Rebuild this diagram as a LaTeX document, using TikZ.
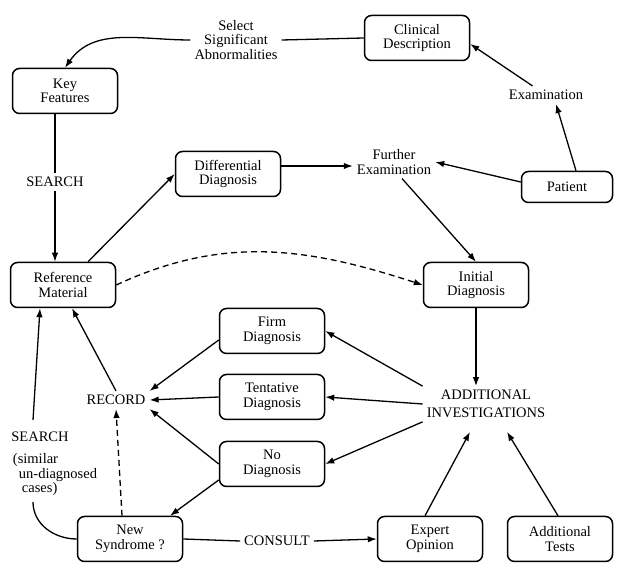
\documentclass[tikz,border=0pt]{standalone}
\usepackage{fontspec}
\setmainfont{Liberation Serif}
\newfontfamily\diagfont{Liberation Serif}
\usetikzlibrary{arrows.meta}
\tikzset{
  box/.style={draw, line width=1.5pt, rounded corners=7pt, minimum width=105pt,
    minimum height=45pt, align=center},
  txt/.style={align=center, inner sep=4pt},
  link/.style={line width=1.3pt, -{Latex[length=9pt, width=6.5pt]}},
  plain/.style={line width=1.3pt},
  dashline/.style={dash pattern=on 6pt off 4pt}
}
\begin{document}
\begin{tikzpicture}[x=1pt, y=1pt, font=\diagfont\fontsize{14.5}{14.5}\selectfont]
        \useasboundingbox (0, 0) rectangle (625, -577); %
        \node[box] (clin) at (417, -38) {Clinical\\Description};
        \node[txt] (sel) at (236, -40) {Select\\Significant\\Abnormalities};
        \node[box] (key) at (65, -91) {Key\\Features};
        \node[txt] (exam) at (546, -95) {Examination};
        \node[box, minimum width=91pt, minimum height=31pt] (pat) at (567, -187) {Patient};
        \node[txt] (furth) at (394, -162) {Further\\Examination};
        \node[box] (diff) at (228, -174) {Differential\\Diagnosis};
        \node[txt] (srch) at (55, -182) {SEARCH};
        \node[box] (ref) at (63, -285) {Reference\\Material};
        \node[box] (init) at (476, -285) {Initial\\Diagnosis};
        \node[txt] (addinv) at (486, -404) {ADDITIONAL\\[3pt]INVESTIGATIONS};
        \node[box] (firm) at (272, -331) {Firm\\Diagnosis};
        \node[box] (tent) at (272, -397) {Tentative\\Diagnosis};
        \node[box] (nodiag) at (272, -464) {No\\Diagnosis};
        \node[txt] (rec) at (116, -400) {RECORD};
        \node[box] (newsyn) at (130, -539) {New\\Syndrome ?};
        \node[txt] (cons) at (277, -541) {CONSULT};
        \node[box] (expert) at (430, -539) {Expert\\Opinion};
        \node[box] (tests) at (560, -539) {Additional\\Tests};
        \node[txt] (srchb) at (40, -437) {SEARCH};
        \node[txt, align=left] (cases) at (55, -475)
          {(similar\\\hspace{6pt}un-diagnosed\\\hspace{9pt}cases)};
        \coordinate (stop) at (33, -420);
        \coordinate (sbot) at (33, -502);

        % top loop
        \draw[plain] (clin.west) -- (sel.east);
        \draw[link] (sel.west) to[out=180, in=55] (key.north);
        \draw[link] ([xshift=9pt]pat.north) -- ([xshift=10pt]exam.south);
        \draw[link] (exam) -- ([yshift=-6pt]clin.east);
        \draw[link] ([yshift=5pt]pat.west) -- (furth.east);
        \draw[link] ([yshift=8pt]diff.east) -- ([yshift=8pt]diff.east -| furth.west);
        \draw[link] ([xshift=8pt]furth.south) -- (init.north);
        \draw[plain] (key.south -| srch) -- (srch);
        \draw[link] (srch) -- (srch |- ref.north);
        \draw[link] ([xshift=25pt]ref.north) -- (diff.west);
        \draw[link, dashline] (ref.east) to[out=25, in=162] (init.west);
        \draw[link] (init.south) -- (init.south |- addinv.north);

        % outcomes
        \draw[link] (addinv.north west) -- (firm.east);
        \draw[link] (addinv.west) -- (tent.east);
        \draw[link] (addinv.south west) -- (nodiag.east);
        \draw[link] ([yshift=-9pt]firm.west) -- (rec.north east);
        \draw[link] (tent.west) -- (rec.east);
        \draw[link] (nodiag.west) -- (rec.south east);
        \draw[link] (rec.north) -- ([xshift=9pt]ref.south);
        \draw[link] ([yshift=-16pt]nodiag.west) -- ([xshift=40pt]newsyn.north);
        \draw[link, dashline] ([xshift=-8pt]newsyn.north) -- (rec.south);

        % bottom row
        \draw[plain] (newsyn.east) -- (cons.west);
        \draw[link] (cons.east) -- (expert.west);
        \draw[link] ([xshift=-5pt]expert.north) -- ([xshift=-16pt, yshift=-10pt]addinv.south);
        \draw[link] ([xshift=-2pt]tests.north) -- ([xshift=21pt, yshift=-10pt]addinv.south);
        \draw[plain] (newsyn.west) to[out=180, in=-90] (sbot);
        \draw[link] (stop) -- ([xshift=-23pt]ref.south);
      \end{tikzpicture}
\end{document}
